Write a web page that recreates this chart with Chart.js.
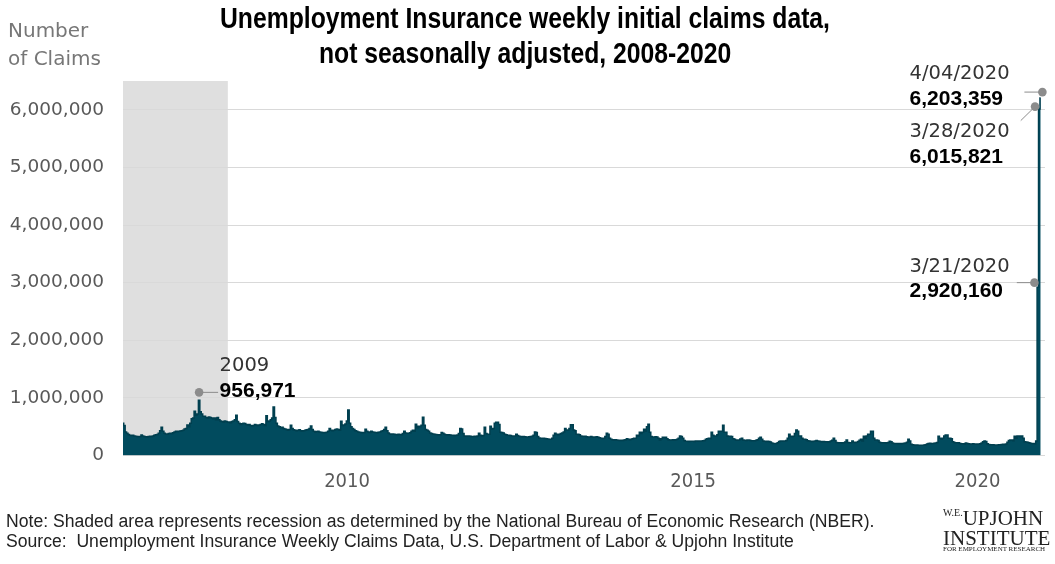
<!DOCTYPE html>
<html>
<head>
<meta charset="utf-8">
<title>Unemployment Insurance weekly initial claims</title>
<script src="https://cdn.jsdelivr.net/npm/chart.js@4.4.1/dist/chart.umd.min.js"></script>
<style>
  body { margin: 0; background: #fff; }
  #wrap { position: relative; width: 1055px; height: 564px; overflow: hidden; }
  #chart { position: absolute; left: 0; top: 0; }
  .txt { position: absolute; white-space: pre; }
  .title { font: bold 29px "Liberation Sans", Arial, sans-serif; color: #000; line-height: 34px; transform-origin: 0 0; }
  .ytitle { left: 8px; font: 20px "DejaVu Sans", sans-serif; color: #777; line-height: 24px; }
  .note { left: 6px; font: 17.6px "Liberation Sans", Arial, sans-serif; color: #222; line-height: 20px; }
  .logo { font-family: "Liberation Serif", "DejaVu Serif", serif; color: #222; line-height: 1; }
</style>
</head>
<body>
<div id="wrap">
  <canvas id="chart" width="1055" height="564"></canvas>
  <div class="txt title" id="title1" style="top:1px">Unemployment Insurance weekly initial claims data,</div>
  <div class="txt title" id="title2" style="top:36px">not seasonally adjusted, 2008-2020</div>
  <div class="txt ytitle" style="top:18px">Number</div>
  <div class="txt ytitle" style="top:46px">of Claims</div>
  <div class="txt note" style="top:511px">Note: Shaded area represents recession as determined by the National Bureau of Economic Research (NBER).</div>
  <div class="txt note" style="top:531px">Source:  Unemployment Insurance Weekly Claims Data, U.S. Department of Labor &amp; Upjohn Institute</div>
  <div class="txt logo" style="left:943px; top:508px; font-size:21px;"><span style="font-size:10px; vertical-align:top;">W.E.</span>UPJOHN</div>
  <div class="txt logo" style="left:943px; top:528px; font-size:21px;">INSTITUTE</div>
  <div class="txt logo" style="left:943px; top:546px; font-size:7px;">FOR EMPLOYMENT RESEARCH</div>
</div>
<script>
// weekly initial claims, not seasonally adjusted, thousands (weeks ending Saturday)
var claims2008 = [560, 520, 410, 385, 365, 350, 345, 350, 340, 335, 330, 325, 330, 355, 340, 330, 325, 320, 330, 335, 330, 340, 350, 360, 365, 385,
  430, 490, 420, 385, 375, 370, 380, 385, 380, 395, 410, 420, 415, 420, 425, 430, 440, 460, 470, 530, 500, 560, 640, 650, 770, 700];
var claims2009 = [720, 956.971, 760, 720, 680, 680, 660, 650, 670, 660, 650, 640, 650, 620, 660, 620, 600, 590, 580, 600, 590, 580, 580, 570, 590, 600,
  620, 700, 590, 560, 540, 550, 560, 555, 540, 530, 540, 520, 510, 520, 540, 530, 520, 530, 540, 550, 540, 520, 690, 590, 600, 620];
var claims2010 = [650, 840, 660, 560, 510, 500, 480, 490, 470, 460, 450, 440, 450, 525, 470, 445, 440, 430, 440, 445, 430, 425, 430, 440, 445, 450,
  470, 510, 450, 420, 410, 415, 420, 410, 405, 400, 395, 400, 405, 420, 470, 440, 430, 440, 450, 460, 450, 440, 596, 520, 530, 545];
var claims2011 = [600, 790, 560, 500, 470, 450, 430, 420, 410, 405, 400, 395, 400, 456, 420, 410, 400, 420, 410, 405, 400, 395, 405, 410, 420, 430,
  450, 490, 430, 390, 375, 370, 375, 370, 365, 360, 370, 365, 360, 380, 420, 390, 385, 385, 395, 420, 440, 420, 544, 480, 509, 500, 526];
var claims2012 = [666, 526, 450, 440, 420, 390, 380, 375, 370, 365, 360, 355, 360, 400, 385, 370, 360, 355, 360, 355, 350, 350, 345, 350, 355, 380,
  470, 460, 380, 340, 335, 340, 340, 335, 330, 330, 335, 330, 340, 386, 350, 340, 345, 490, 380, 370, 368, 509, 456, 470, 560, 579];
var claims2013 = [579, 540, 403, 400, 390, 370, 360, 350, 350, 345, 340, 335, 340, 368, 345, 335, 330, 325, 330, 325, 320, 320, 325, 330, 335, 350,
  410, 400, 330, 305, 300, 298, 300, 295, 290, 285, 280, 281, 300, 350, 386, 370, 360, 370, 380, 390, 410, 470, 444, 444, 470, 532];
var claims2014 = [532, 444, 430, 368, 368, 360, 340, 333, 333, 335, 325, 320, 322, 330, 322, 315, 320, 325, 318, 310, 300, 295, 300, 330, 386, 370,
  300, 281, 275, 270, 272, 268, 265, 262, 265, 260, 268, 275, 290, 281, 275, 280, 290, 300, 300, 350, 340, 403, 380, 403, 456, 420];
var claims2015 = [500, 544, 403, 330, 322, 322, 325, 322, 300, 269, 290, 315, 310, 315, 290, 275, 270, 268, 272, 270, 275, 281, 300, 339, 330, 300,
  260, 246, 246, 244, 246, 248, 246, 244, 250, 251, 248, 252, 250, 255, 260, 280, 290, 298, 295, 403, 350, 339, 340, 360, 420, 420];
var claims2016 = [420, 526, 403, 403, 340, 333, 333, 330, 290, 280, 270, 265, 270, 285, 298, 270, 265, 262, 268, 270, 262, 258, 255, 258, 265, 275,
  300, 315, 280, 250, 246, 244, 246, 242, 235, 215, 210, 208, 210, 220, 245, 251, 250, 248, 251, 260, 298, 368, 333, 330, 333, 380, 444];
var claims2017 = [420, 339, 339, 300, 281, 281, 275, 255, 250, 246, 244, 246, 250, 260, 250, 246, 242, 240, 244, 240, 238, 236, 240, 250, 265, 298,
  260, 225, 222, 220, 222, 218, 220, 235, 269, 225, 222, 220, 251, 230, 225, 230, 245, 265, 281, 250, 333, 300, 340, 368, 368, 420];
var claims2018 = [420, 300, 269, 269, 260, 230, 222, 220, 222, 218, 220, 225, 246, 240, 215, 210, 208, 210, 205, 208, 205, 210, 212, 215, 230, 281,
  250, 195, 185, 181, 180, 182, 178, 180, 176, 178, 181, 185, 200, 210, 212, 208, 210, 212, 215, 225, 333, 300, 281, 300, 340, 356];
var claims2019 = [356, 298, 298, 290, 240, 225, 222, 220, 222, 210, 205, 204, 200, 215, 208, 205, 200, 198, 202, 200, 198, 196, 200, 205, 215, 240,
  251, 245, 205, 192, 187, 185, 187, 184, 182, 184, 187, 185, 190, 195, 192, 198, 230, 262, 270, 270, 255, 333, 300, 339, 339, 330];
var claims2020 = [339, 300, 240, 233, 230, 222, 212, 210, 208, 205, 251, 2920.160, 6015.821, 6203.359];

var claims = [].concat(claims2008, claims2009, claims2010, claims2011, claims2012, claims2013, claims2014,
  claims2015, claims2016, claims2017, claims2018, claims2019, claims2020);

// week ending dates, first week ending Jan 5 2008
var firstWeek = Date.UTC(2008, 0, 5);
var weekEnding = claims.map(function (v, i) {
  return new Date(firstWeek + i * 7 * 86400000).toISOString().slice(0, 10);
});

// axis labels as they sit on the original chart
var yearLabels = ['2010', '2015', '2020'];
var yearLabelWeeks = ['2011-01-01', '2015-08-15', '2019-06-01'];
var yTicks = [0, 1000000, 2000000, 3000000, 4000000, 5000000, 6000000];

// NBER recession (within the data range)
var recessionWeeks = ['2008-01-05', '2009-05-30'];

// called-out weeks
var calloutWeeks = ['2009-01-10', '2020-03-21', '2020-03-28', '2020-04-04'];
var calloutTitles = ['2009', '3/21/2020', '3/28/2020', '4/04/2020'];

var calloutLayout = [
  { dot: [0, -8], lineTo: [19, 0], textX: 20.5, titleY: -26, valueY: -1 },
  { dot: [-3.4, -4.6], lineTo: [-17.6, 0], textX: -124.8, titleY: -16, valueY: 9 },
  { dot: [-4.2, -2.3], lineTo: [-14.3, 14], textX: -125.5, titleY: 25, valueY: 51 },
  { dot: [1.7, -6], lineTo: [-18, 0], textX: -132.8, titleY: -18, valueY: 7 }
];

// squeeze the title into the condensed width of the original
(function () {
  var t1 = document.getElementById('title1'), t2 = document.getElementById('title2');
  var s = 610 / t1.getBoundingClientRect().width;
  [t1, t2].forEach(function (el) {
    var w = el.getBoundingClientRect().width * s;
    el.style.left = (525 - w / 2) + 'px';
    el.style.transform = 'scaleX(' + s + ')';
  });
})();

var recessionShade = {
  id: 'recessionShade',
  beforeDraw: function (chart) {
    var x = chart.scales.x, area = chart.chartArea, c = chart.ctx;
    var x0 = x.getPixelForValue(weekEnding.indexOf(recessionWeeks[0]));
    var x1 = x.getPixelForValue(weekEnding.indexOf(recessionWeeks[1]));
    c.save();
    c.fillStyle = '#dfdfdf';
    c.fillRect(x0, area.top, x1 - x0, area.bottom - area.top);
    c.restore();
  }
};

var callouts = {
  id: 'callouts',
  afterDatasetsDraw: function (chart) {
    var x = chart.scales.x, y = chart.scales.y, c = chart.ctx;
    c.save();
    calloutWeeks.forEach(function (wk, k) {
      var i = weekEnding.indexOf(wk);
      var val = Math.round(claims[i] * 1000);
      var lay = calloutLayout[k];
      var px = x.getPixelForValue(i) + lay.dot[0];
      var py = y.getPixelForValue(val) + lay.dot[1];
      c.strokeStyle = '#8c8c8c';
      c.lineWidth = 1;
      c.beginPath();
      c.moveTo(px, py);
      c.lineTo(px + lay.lineTo[0], py + lay.lineTo[1]);
      c.stroke();
      c.fillStyle = '#8c8c8c';
      c.beginPath();
      c.arc(px, py, 4.3, 0, Math.PI * 2);
      c.fill();
      c.textAlign = 'left';
      c.textBaseline = 'middle';
      c.fillStyle = '#333';
      c.font = '19.5px "DejaVu Sans"';
      c.fillText(calloutTitles[k], px + lay.textX, py + lay.titleY);
      c.fillStyle = '#000';
      c.font = 'bold 21px "Liberation Sans"';
      c.fillText(val.toLocaleString('en-US'), px + lay.textX, py + lay.valueY);
    });
    c.restore();
  }
};

var ctx = document.getElementById('chart').getContext('2d');
new Chart(ctx, {
  type: 'line',
  data: {
    datasets: [{
      data: claims.map(function (v, i) { return { x: i, y: v * 1000 }; }),
      stepped: 'middle',
      fill: 'origin',
      backgroundColor: '#014b5e',
      borderColor: '#003f4f',
      borderWidth: 1.5,
      pointRadius: 0
    }]
  },
  options: {
    responsive: false,
    animation: false,
    devicePixelRatio: 1,
    layout: { padding: { top: 81, right: 10, bottom: 68.5, left: 0 } },
    plugins: {
      legend: { display: false },
      tooltip: { enabled: false }
    },
    scales: {
      x: {
        type: 'linear',
        min: 0,
        max: 642,
        grid: { display: false },
        border: { display: false },
        afterBuildTicks: function (scale) {
          scale.ticks = yearLabelWeeks.map(function (d) { return { value: weekEnding.indexOf(d) }; });
        },
        afterFit: function (scale) { scale.height = 40; },
        ticks: {
          autoSkip: false,
          maxRotation: 0,
          padding: 6,
          color: '#595959',
          font: { family: '"DejaVu Sans Condensed", "DejaVu Sans", sans-serif', size: 20 },
          callback: function (value) {
            var k = yearLabelWeeks.indexOf(weekEnding[value]);
            return k >= 0 ? yearLabels[k] : '';
          }
        }
      },
      y: {
        min: 0,
        max: 6500000,
        grid: { color: '#d9d9d9', drawTicks: false },
        border: { display: false },
        afterBuildTicks: function (scale) {
          scale.ticks = yTicks.map(function (v) { return { value: v }; });
        },
        afterFit: function (scale) { scale.width = 123; },
        ticks: {
          padding: 19,
          color: '#595959',
          font: { family: '"DejaVu Sans", sans-serif', size: 18.5 },
          callback: function (value) { return value.toLocaleString('en-US'); }
        }
      }
    }
  },
  plugins: [recessionShade, callouts]
});
</script>
</body>
</html>
